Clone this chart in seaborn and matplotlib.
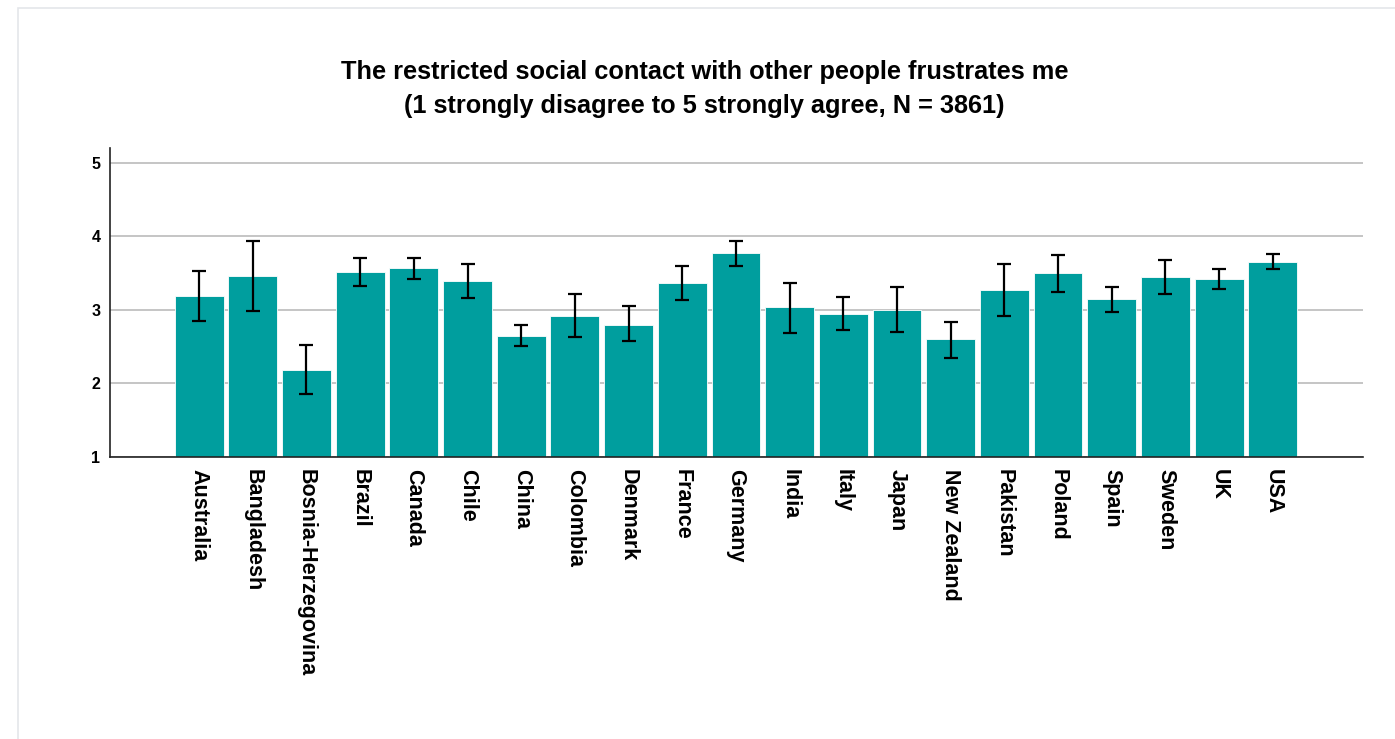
import numpy as np
import matplotlib
matplotlib.use("Agg")
import matplotlib.pyplot as plt
import seaborn as sns
from matplotlib.patches import Rectangle

countries = ["Australia", "Bangladesh", "Bosnia-Herzegovina", "Brazil", "Canada",
             "Chile", "China", "Colombia", "Denmark", "France", "Germany", "India",
             "Italy", "Japan", "New Zealand", "Pakistan", "Poland", "Spain",
             "Sweden", "UK", "USA"]
means = [3.19, 3.46, 2.18, 3.51, 3.57, 3.39, 2.65, 2.91, 2.80, 3.36, 3.77, 3.04,
         2.95, 3.00, 2.60, 3.27, 3.50, 3.15, 3.45, 3.42, 3.65]
ci_low = [2.85, 2.98, 1.85, 3.32, 3.42, 3.16, 2.51, 2.63, 2.57, 3.13, 3.60, 2.69,
          2.72, 2.70, 2.35, 2.91, 3.24, 2.97, 3.21, 3.28, 3.55]
ci_high = [3.53, 3.93, 2.52, 3.71, 3.71, 3.63, 2.80, 3.21, 3.05, 3.60, 3.94, 3.37,
           3.18, 3.31, 2.83, 3.63, 3.75, 3.31, 3.68, 3.56, 3.76]

title = ("The restricted social contact with other people frustrates me\n"
         "(1 strongly disagree to 5 strongly agree, N = 3861)")

sns.set_style("white")
plt.rcParams["font.family"] = ["Liberation Sans", "DejaVu Sans"]
plt.rcParams["text.color"] = "black"
plt.rcParams["xtick.color"] = "black"
plt.rcParams["ytick.color"] = "black"

fig = plt.figure(figsize=(13.95, 7.39), dpi=100)
ax = fig.add_axes([110 / 1395, 1 - 457 / 739, (1363 - 110) / 1395, (457 - 148) / 739])

# faint page frame like the source screenshot
fig.patches.append(Rectangle((18 / 1395, -0.01), 1.1, 1 - 8 / 739 + 0.01,
                             transform=fig.transFigure, fill=False,
                             edgecolor="#e4e6ea", linewidth=1.2))

sns.barplot(x=countries, y=means, color="#009e9e", saturation=1, width=0.91,
            edgecolor="white", linewidth=0.6, ax=ax)

x = np.arange(len(countries))
m = np.array(means)
yerr = [m - np.array(ci_low), np.array(ci_high) - m]
ax.errorbar(x, m, yerr=yerr, fmt="none", ecolor="black", elinewidth=1.6,
            capsize=5.2, capthick=1.6, zorder=5)

ax.set_ylim(1, 5.2)
ax.set_xlim(-1.66, len(countries) - 1 + 1.68)
ax.set_yticks([1, 2, 3, 4, 5])
ax.set_yticklabels(["1", "2", "3", "4", "5"], fontsize=11.5, fontweight="bold")
ax.yaxis.grid(True, color="#bbbbbb", linewidth=1.2)
ax.set_axisbelow(True)
ax.tick_params(axis="both", length=0, pad=7)
ax.tick_params(axis="x", pad=9)
ax.set_xticks(x)
ax.set_xticklabels(countries, rotation=270, fontsize=15.5, fontweight="bold",
                   va="top", ha="center")

for side in ["top", "right"]:
    ax.spines[side].set_visible(False)
for side in ["left", "bottom"]:
    ax.spines[side].set_color("#222222")
    ax.spines[side].set_linewidth(1.2)

ax.set_xlabel("")
ax.set_ylabel("")
fig.text(0.505, 1 - 89 / 739, title, ha="center", va="center", fontsize=18.3,
         fontweight="bold", linespacing=1.5)

fig.savefig("out.png", dpi=100, facecolor="white")
